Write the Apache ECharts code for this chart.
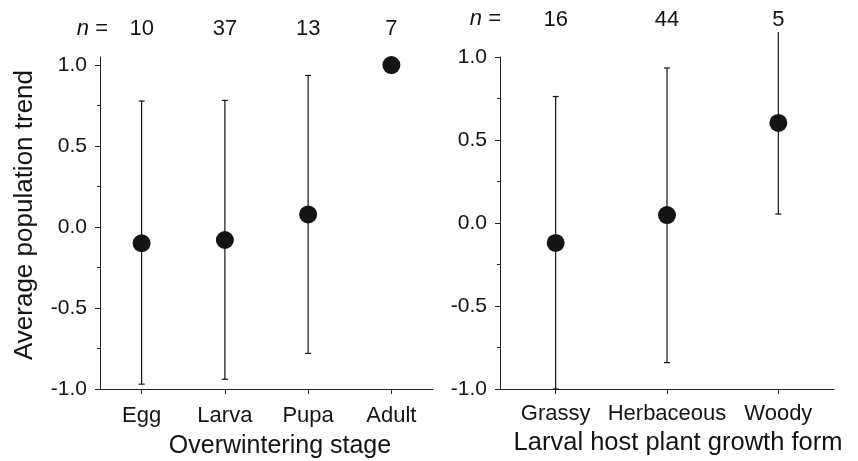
<!DOCTYPE html>
<html>
<head>
<meta charset="utf-8">
<script src="https://cdn.jsdelivr.net/npm/echarts@6/dist/echarts.min.js"></script>
<style>
html,body{margin:0;padding:0;background:#fff;}
#c{width:858px;height:461px;}
</style>
</head>
<body>
<div id="c"></div>
<script>
// ---- data ----
const stages = ['Egg', 'Larva', 'Pupa', 'Adult'];
const stageN = [10, 37, 13, 7];
const stageMean = [-0.10, -0.08, 0.078, 1.0];
const stageLow = [-0.97, -0.94, -0.78, null];
const stageHigh = [0.778, 0.782, 0.936, null];

const forms = ['Grassy', 'Herbaceous', 'Woody'];
const formN = [16, 44, 5];
const formMean = [-0.12, 0.048, 0.603];
const formLow = [-1.0, -0.841, 0.054];
const formHigh = [0.762, 0.934, 1.151];

const yTicks = [-1.0, -0.5, 0.0, 0.5, 1.0];

// ---- chart ----
const FONT = 'Liberation Sans';
const INK = '#141414';
const AX = '#222';

function errData(low, high) {
  const out = [];
  low.forEach((l, i) => { if (l !== null && high[i] !== null) out.push([i, l, high[i]]); });
  return out;
}

function errRender(yMin, yMax) {
  return function (params, api) {
    const i = api.value(0);
    const lo = api.value(1), hi = api.value(2);
    const pLo = api.coord([i, lo]);
    const pHi = api.coord([i, hi]);
    const x = pLo[0];
    const children = [{
      type: 'line',
      shape: { x1: x, y1: pLo[1], x2: x, y2: pHi[1] },
      style: { stroke: INK, lineWidth: 1.2 }
    }];
    const cap = 3;
    if (lo >= yMin - 1e-9 && lo <= yMax) children.push({
      type: 'line', shape: { x1: x - cap, y1: pLo[1], x2: x + cap, y2: pLo[1] },
      style: { stroke: INK, lineWidth: 1.2 }
    });
    if (hi <= yMax + 1e-9 && hi >= yMin) children.push({
      type: 'line', shape: { x1: x - cap, y1: pHi[1], x2: x + cap, y2: pHi[1] },
      style: { stroke: INK, lineWidth: 1.2 }
    });
    return { type: 'group', children };
  };
}

const yAxisBase = (gi, max) => ({
  type: 'value', gridIndex: gi, min: -1, max: max, interval: 0.5,
  splitLine: { show: false },
  axisLine: { show: true, lineStyle: { color: AX, width: 1 } },
  axisTick: { show: true, length: 5, lineStyle: { color: AX }, customValues: yTicks },
  minorTick: { show: true, splitNumber: 2, length: 3, lineStyle: { color: AX } },
  axisLabel: {
    customValues: yTicks, margin: 13, fontSize: 21, fontFamily: FONT, color: INK,
    formatter: v => v.toFixed(1)
  }
});

const xBottom = (gi, cats, margin) => ({
  type: 'category', gridIndex: gi, data: cats, position: 'bottom',
  axisLine: { show: true, onZero: false, lineStyle: { color: AX, width: 1 } },
  axisTick: { show: true, alignWithLabel: true, length: 5, lineStyle: { color: AX } },
  axisLabel: { margin: margin, fontSize: 22, fontFamily: FONT, color: INK, interval: 0 },
  splitLine: { show: false }
});

const xTop = (gi, ns, offset) => ({
  type: 'category', gridIndex: gi, data: ns.map(String), position: 'top', offset: offset,
  axisLine: { show: false }, axisTick: { show: false }, splitLine: { show: false },
  axisLabel: { margin: 0, verticalAlign: 'middle', fontSize: 22, fontFamily: FONT, color: INK, interval: 0 }
});

const nPrefix = (x, y) => ({
  type: 'text', x: x, y: y,
  style: {
    text: '{i|n} =', align: 'right', verticalAlign: 'middle',
    fontSize: 22, fontFamily: FONT, fill: INK,
    rich: { i: { fontStyle: 'italic', fontSize: 22, fontFamily: FONT, fill: INK, color: INK } }
  }
});

const chart = echarts.init(document.getElementById('c'), null, { renderer: 'canvas' });
const leftMax = 1.05;
chart.setOption({
  animation: false,
  backgroundColor: '#fff',
  textStyle: { fontFamily: FONT },
  grid: [
    { left: 100, top: 57, width: 333, height: 332, outerBoundsMode: 'none', containLabel: false },
    { left: 500, top: 57, width: 334, height: 332, outerBoundsMode: 'none', containLabel: false }
  ],
  xAxis: [
    Object.assign(xBottom(0, stages, 16), {
      name: 'Overwintering stage', nameLocation: 'middle', nameGap: 45,
      nameTextStyle: { fontSize: 25, fontFamily: FONT, color: INK, padding: [0, 0, 0, 27] }
    }),
    Object.assign(xBottom(1, forms, 14), {
      name: 'Larval host plant growth form', nameLocation: 'middle', nameGap: 39,
      nameTextStyle: { fontSize: 25.5, fontFamily: FONT, color: INK, padding: [0, 0, 0, 22] }
    }),
    xTop(0, stageN, 28),
    xTop(1, formN, 37)
  ],
  yAxis: [
    Object.assign(yAxisBase(0, leftMax), {
      name: 'Average population trend', nameLocation: 'middle', nameGap: 62,
      nameTextStyle: { fontSize: 26, fontFamily: FONT, color: INK, padding: [0, 0, 0, 16] }
    }),
    yAxisBase(1, 1.0)
  ],
  graphic: [nPrefix(108, 29), nPrefix(501, 19)],
  series: [
    {
      type: 'custom', xAxisIndex: 0, yAxisIndex: 0, clip: false, z: 2,
      renderItem: errRender(-1, leftMax), encode: { x: 0, y: [1, 2] },
      data: errData(stageLow, stageHigh)
    },
    {
      type: 'scatter', xAxisIndex: 0, yAxisIndex: 0, z: 3,
      symbol: 'circle', symbolSize: 18, itemStyle: { color: INK, opacity: 1 },
      data: stageMean
    },
    {
      type: 'custom', xAxisIndex: 1, yAxisIndex: 1, clip: false, z: 2,
      renderItem: errRender(-1, 1.0), encode: { x: 0, y: [1, 2] },
      data: errData(formLow, formHigh)
    },
    {
      type: 'scatter', xAxisIndex: 1, yAxisIndex: 1, z: 3,
      symbol: 'circle', symbolSize: 18, itemStyle: { color: INK, opacity: 1 },
      data: formMean
    }
  ]
});
</script>
</body>
</html>
